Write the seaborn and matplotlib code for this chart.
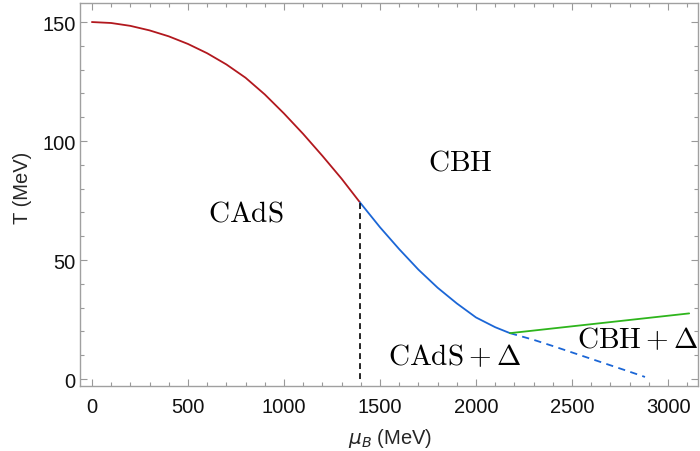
import numpy as np
import pandas as pd
import matplotlib
matplotlib.use("Agg")
import matplotlib.pyplot as plt
import seaborn as sns

# ---- data ----
red_mu = [0, 100, 200, 300, 400, 500, 600, 700, 800, 900, 1000, 1100, 1200, 1300, 1396]
red_T = [150, 149.6, 148.4, 146.5, 144.0, 140.8, 136.9, 132.2, 126.6, 119.6,
         111.6, 103.0, 93.8, 84.2, 74.2]

blue_mu = [1396, 1500, 1600, 1700, 1800, 1900, 2000, 2100, 2177]
blue_T = [74.2, 63.8, 54.6, 46.0, 38.4, 31.8, 25.9, 21.8, 19.3]

dash_mu = [2177, 2300, 2400, 2500, 2600, 2700, 2800, 2880]
dash_T = [19.3, 16.5, 13.9, 11.2, 8.5, 5.8, 3.1, 0.9]

green_mu = [2177, 3110]
green_T = [19.3, 27.6]

vline_mu = [1396, 1396]
vline_T = [0, 74.2]

region_labels = [r"$\mathrm{CAdS}$", r"$\mathrm{CBH}$", r"$\mathrm{CAdS}+\Delta$", r"$\mathrm{CBH}+\Delta$"]
region_x = [800, 1920, 1890, 2840]
region_y = [70, 91.5, 9.7, 16.8]

xticks = [0, 500, 1000, 1500, 2000, 2500, 3000]
yticks = [0, 50, 100, 150]

sns.set_theme(style="white")
plt.rcParams['font.family'] = ['Liberation Sans', 'DejaVu Sans']
plt.rcParams['mathtext.fontset'] = 'cm'

fig = plt.figure(figsize=(7.0, 4.52), dpi=100)
ax = fig.add_axes([80/700, 1-387/452, (698-80)/700, (387-4)/452])

def seg(mu, T, color, ls='-', lw=1.3):
    df = pd.DataFrame({"mu": mu, "T": T})
    sns.lineplot(data=df, x="mu", y="T", ax=ax, color=color, linestyle=ls,
                 linewidth=lw, sort=False, estimator=None)

seg(red_mu, red_T, "#B2181E")
seg(blue_mu, blue_T, "#1B66D6")
seg(dash_mu, dash_T, "#1B66D6", ls=(0, (4, 3)))
seg(green_mu, green_T, "#2EB51C")
seg(vline_mu, vline_T, "black", ls=(0, (3.5, 2.5)), lw=1.2)

for lab, x, y in zip(region_labels, region_x, region_y):
    ax.text(x, y, lab, fontsize=21, ha='center', va='center', color='black')

ax.set_xlim(-62, 3156)
ax.set_ylim(-2.9, 158)
ax.set_xticks(xticks)
ax.set_yticks(yticks)
ax.set_xticks(np.arange(0, 3101, 100), minor=True)
ax.set_yticks(np.arange(0, 158, 10), minor=True)
ax.tick_params(which='both', direction='in', top=True, right=True,
               bottom=True, left=True, color='#999999', width=0.8)
ax.tick_params(which='major', length=5, labelsize=14.5, labelcolor='#111111')
ax.tick_params(which='minor', length=2.8)
ax.tick_params(axis='y', which='major', pad=3)
ax.tick_params(axis='x', which='major', pad=8)
for s in ax.spines.values():
    s.set_color('#A0A0A0')
    s.set_linewidth(1.0)
ax.set_xlabel(r"$\mu_B$ (MeV)", fontsize=14.5, math_fontfamily='dejavusans')
ax.set_ylabel("T (MeV)", fontsize=14.5)
ax.xaxis.set_label_coords(0.502, -0.105)
ax.yaxis.set_label_coords(-0.078, 0.52)

fig.savefig("out.png", dpi=100)
